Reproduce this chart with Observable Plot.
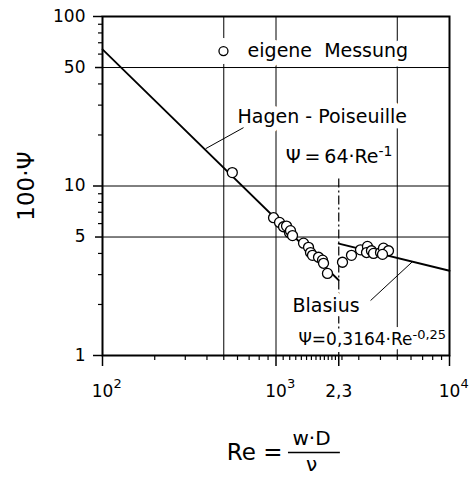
<!DOCTYPE html>
<html><head><meta charset="utf-8">
<script src="https://cdn.jsdelivr.net/npm/d3@7"></script>
<script src="https://cdn.jsdelivr.net/npm/@observablehq/plot@0.6"></script>
<style>body{margin:0;background:#fff;} svg{display:block;}</style>
</head><body><div id="chart"></div>
<script>
// measured points ("eigene Messung")
const measRe  = [560, 968, 1048, 1105, 1150, 1197, 1212, 1245, 1441, 1540, 1581, 1623, 1758, 1854, 1879, 1980, 2417, 2723, 3069, 3366, 3325, 3550, 3648, 4003, 4164, 4450, 4110];
const measPsi = [12.0, 6.5, 6.1, 5.75, 5.8, 5.3, 5.45, 5.1, 4.6, 4.35, 4.05, 3.9, 3.8, 3.65, 3.5, 3.05, 3.55, 3.9, 4.2, 4.4, 4.05, 4.15, 4.0, 4.05, 4.3, 4.15, 3.95];
// theory lines (end points)
const hagenRe = [100, 2300];
const hagenPsi = [64, 2.78];
const blasiusRe = [2300, 10000];
const blasiusPsi = [4.57, 3.16];
// ticks & grid
const yLabelValues = [1, 5, 10, 50, 100];
const yMajorTicks = [1, 10, 100];
const yMidTicks = [5, 50];
const yMinorTicks = [2, 3, 4, 6, 7, 8, 9, 20, 30, 40, 60, 70, 80, 90];
const xMajorTicks = [100, 1000, 2300, 10000];
const xMinorTicks = [200, 300, 400, 500, 600, 700, 800, 900, 1100, 1200, 1300, 1400, 1500, 1600, 1700, 1800, 1900, 2000, 2100, 2200, 2400, 3000, 4000, 5000, 6000, 7000, 8000, 9000];
const xGrid = [500, 1000, 5000];
const yGrid = [5, 10, 50];
const xLabelValues = [100, 1000, 2300, 10000];
const xLabelBase = ["10", "10", "2,3", "10"];
const xLabelSup = ["2", "3", "", "4"];

const meas = measRe.map((r, i) => ({re: r, psi: measPsi[i]}));
const hagen = hagenRe.map((r, i) => ({re: r, psi: hagenPsi[i]}));
const blasius = blasiusRe.map((r, i) => ({re: r, psi: blasiusPsi[i]}));
const F = "DejaVu Sans";
const halo = {stroke: "white", strokeWidth: 10, fill: "black"};

const plot = Plot.plot({
  width: 472, height: 477,
  marginLeft: 102, marginRight: 23, marginTop: 16, marginBottom: 122,
  x: {type: "log", domain: [100, 10000], axis: null},
  y: {type: "log", domain: [1, 100], axis: null},
  style: {fontFamily: F, fontSize: "17px", color: "black", background: "white", overflow: "visible"},
  marks: [
    Plot.ruleX(xGrid, {stroke: "black", strokeWidth: 1}),
    Plot.ruleY(yGrid, {stroke: "black", strokeWidth: 1}),
    Plot.ruleX([2300], {y1: 11, y2: 1, stroke: "black", strokeWidth: 1.2, strokeDasharray: "9,3,2,3"}),
    // texts with white halos
    Plot.dot([0], {x: 498, y: 62.5, r: 13, fill: "white"}),
    Plot.text(["eigene\u00a0\u00a0Messung"], {x: 686, y: 62.5, textAnchor: "start", fontSize: 19, ...halo, strokeWidth: 12}),
    Plot.text(["Hagen - Poiseuille"], {x: 600, y: 25.4, textAnchor: "start", fontSize: 19, ...halo, strokeWidth: 12}),
    Plot.text(["Ψ\u2009=\u200964·Re"], {x: 3900, y: 13.6, textAnchor: "end", lineAnchor: "bottom", fontSize: 19, ...halo}),
    Plot.text(["-1"], {x: 3900, y: 13.6, dy: -7, textAnchor: "start", lineAnchor: "bottom", fontSize: 14, ...halo, strokeWidth: 6}),
    Plot.text(["Blasius"], {x: 1245, y: 1.97, textAnchor: "start", fontSize: 19, ...halo}),
    Plot.text(["Ψ=0,3164·Re"], {x: 6120, y: 1.146, textAnchor: "end", lineAnchor: "bottom", fontSize: 17, ...halo}),
    Plot.text(["-0,25"], {x: 6120, y: 1.146, dy: -6, textAnchor: "start", lineAnchor: "bottom", fontSize: 13, ...halo, strokeWidth: 6}),
    // theory lines
    Plot.line(hagen, {x: "re", y: "psi", stroke: "black", strokeWidth: 1.8}),
    Plot.line(blasius, {x: "re", y: "psi", stroke: "black", strokeWidth: 2}),
    // leader lines
    Plot.link([0], {x1: 393, y1: 16.6, x2: 650, y2: 22.1, stroke: "black", strokeWidth: 1}),
    Plot.link([0], {x1: 3508, y1: 2.11, x2: 6120, y2: 3.58, stroke: "black", strokeWidth: 1}),
    // measurements
    Plot.dot(meas, {x: "re", y: "psi", r: 5, fill: "white", stroke: "black", strokeWidth: 1.3}),
    Plot.dot([0], {x: 498, y: 62.5, r: 4.5, fill: "white", stroke: "black", strokeWidth: 1.3}),
    // axes
    Plot.axisY({ticks: yMajorTicks, anchor: "left", tickSize: 9, tickFormat: () => "", strokeWidth: 1.5, label: null}),
    Plot.axisY({ticks: yMidTicks, anchor: "left", tickSize: 7, tickFormat: () => "", strokeWidth: 1.5, label: null}),
    Plot.axisY({ticks: yMinorTicks, anchor: "left", tickSize: 4, tickFormat: () => "", strokeWidth: 1.2, label: null}),
    Plot.axisY({ticks: yLabelValues, anchor: "left", tickSize: 0, tickPadding: 17, tickFormat: d => String(d), fontSize: 17, label: null}),
    Plot.axisX({ticks: xMajorTicks, anchor: "bottom", tickSize: 11, tickFormat: () => "", strokeWidth: 1.5, label: null}),
    Plot.axisX({ticks: xMinorTicks, anchor: "bottom", tickSize: 5, tickFormat: () => "", strokeWidth: 1.2, label: null}),
    Plot.text(xLabelValues, {x: d => d, frameAnchor: "bottom", lineAnchor: "bottom", textAnchor: "middle", dy: 41, text: (d, i) => xLabelBase[i], fontSize: 17}),
    Plot.text(xLabelValues, {x: d => d, frameAnchor: "bottom", lineAnchor: "bottom", dy: 32, dx: 11, textAnchor: "start", text: (d, i) => xLabelSup[i], fontSize: 13}),
    // axis titles
    Plot.text(["100·Ψ"], {frameAnchor: "left", textAnchor: "middle", lineAnchor: "middle", dx: -76, rotate: -90, fontSize: 23}),
    Plot.text(["Re ="], {x: 1090, frameAnchor: "bottom", lineAnchor: "middle", dy: 97, textAnchor: "end", fontSize: 23}),
    Plot.text(["w·D"], {x: 1602, frameAnchor: "bottom", lineAnchor: "middle", textAnchor: "middle", dy: 83, fontSize: 20}),
    Plot.ruleY([1], {x1: 1180, x2: 2350, dy: 97, stroke: "black", strokeWidth: 1.5}),
    Plot.text(["ν"], {x: 1602, frameAnchor: "bottom", lineAnchor: "middle", textAnchor: "middle", dy: 109, fontSize: 20}),
    Plot.frame({stroke: "black", strokeWidth: 2})
  ]
});
document.getElementById("chart").append(plot);
</script>
</body></html>
